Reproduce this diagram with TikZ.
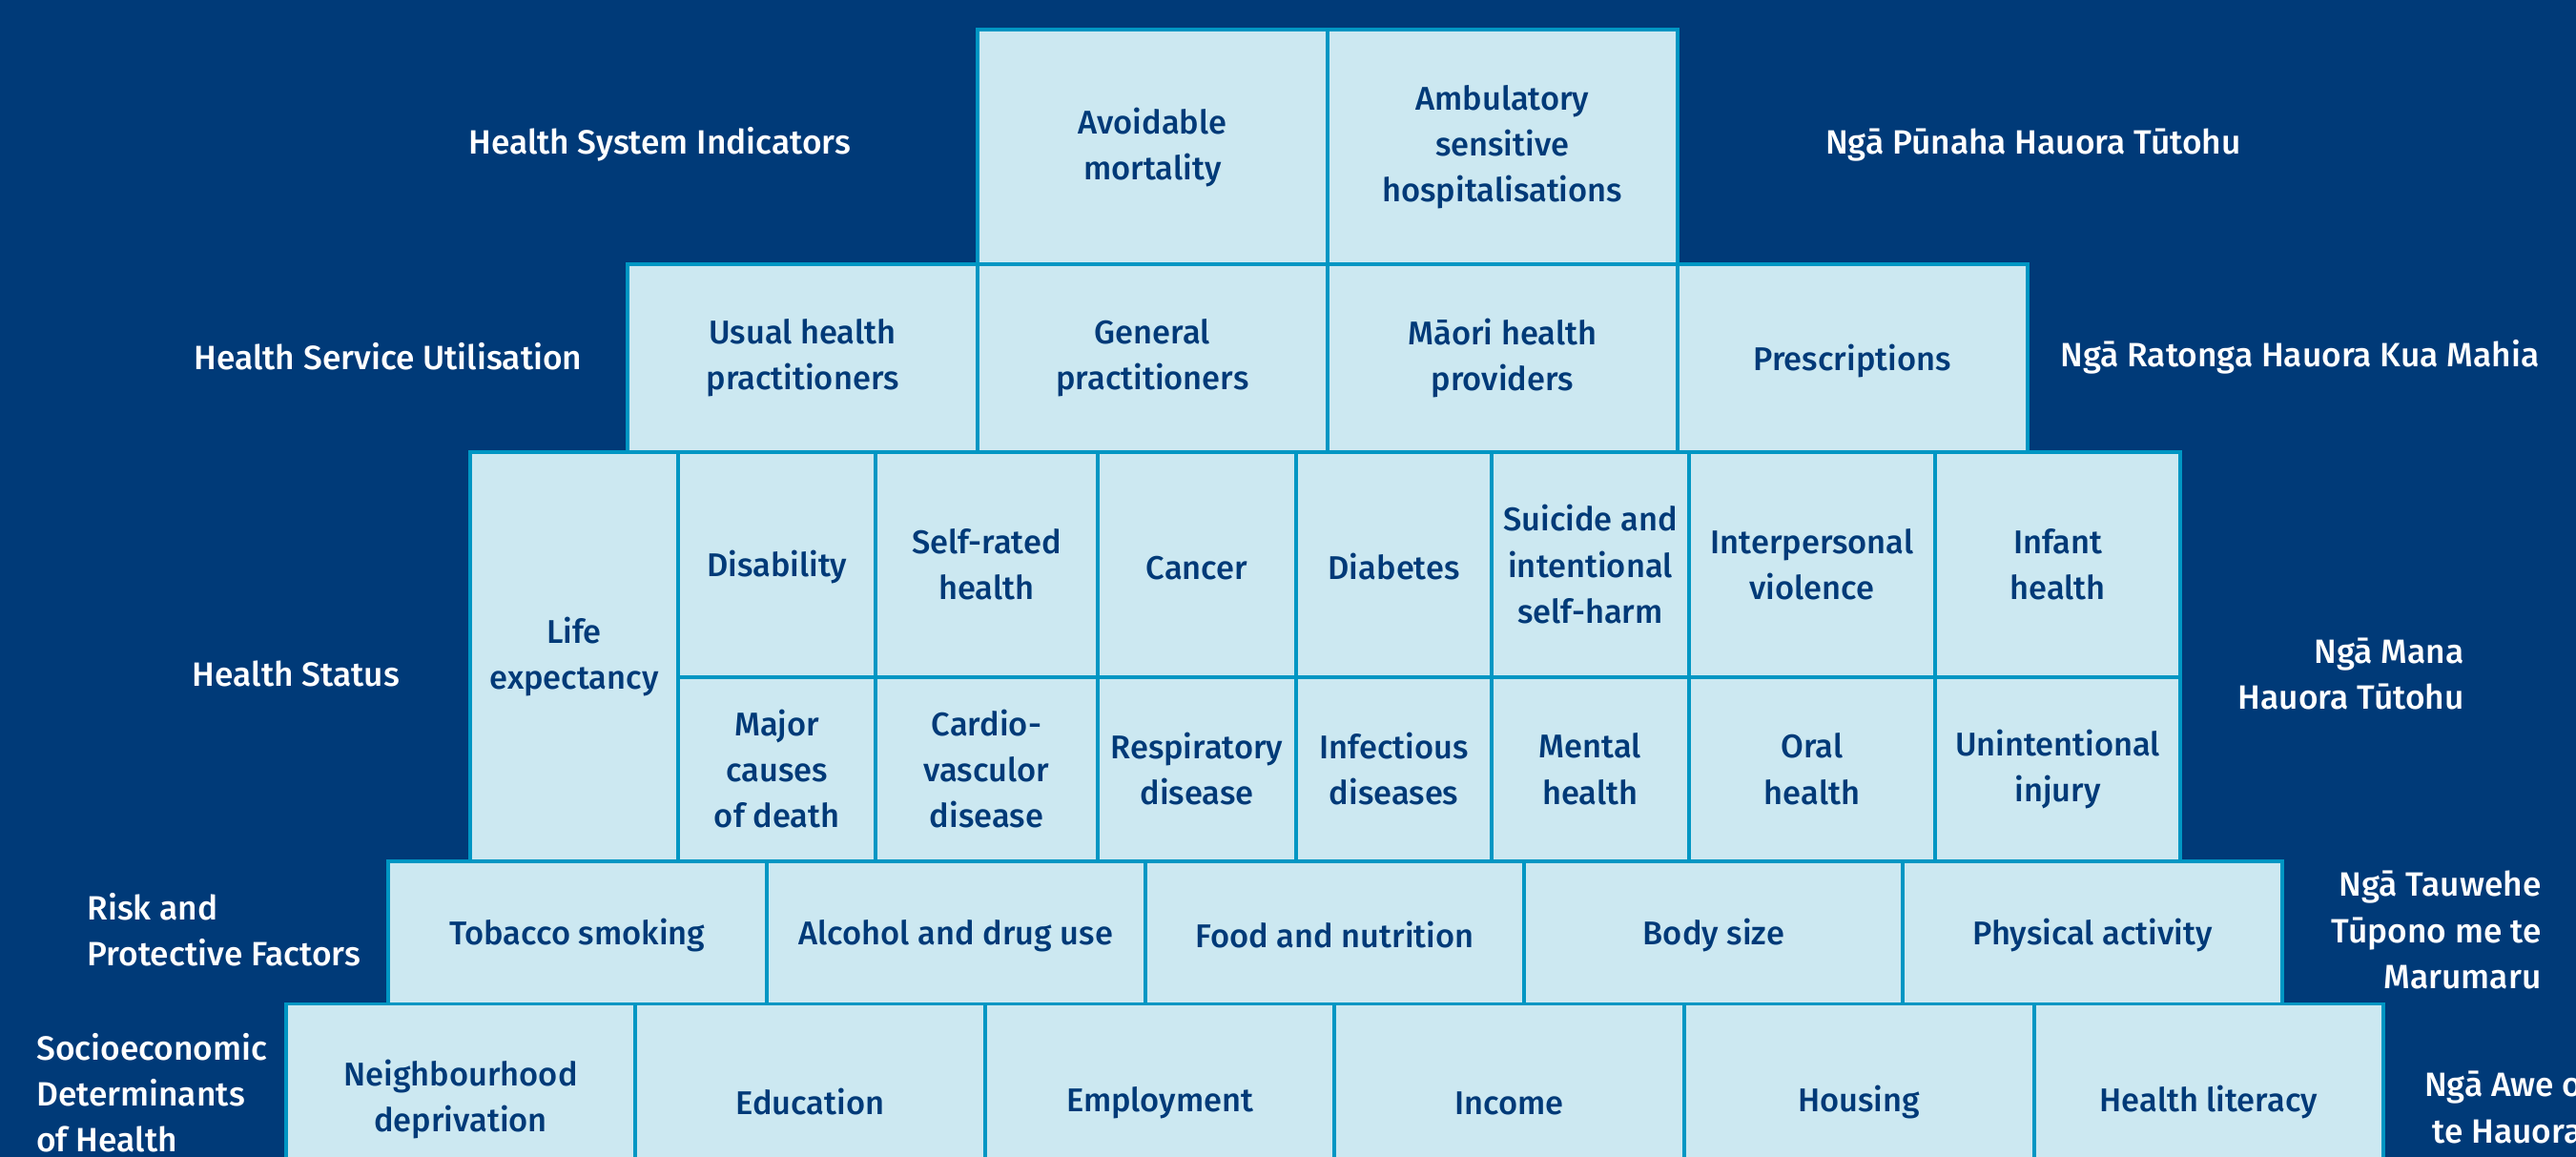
\documentclass[tikz,border=0pt]{standalone}
\usepackage{fontspec}
\setmainfont{Fira Sans}[UprightFont={* Medium}]
\newfontfamily\cellfont{Fira Sans}[UprightFont={* Medium}]
\usetikzlibrary{positioning}
\definecolor{navy}{RGB}{0,58,120}
\definecolor{cellfill}{RGB}{204,232,241}
\definecolor{cellline}{RGB}{0,150,195}
\tikzstyle{cell}=[draw=cellline, fill=cellfill, line width=2.3pt, inner sep=0pt, outer sep=0pt, align=center, text=navy, font=\cellfont\fontsize{20}{28}\selectfont, execute at begin node={\rule{0pt}{19pt}}]
\tikzstyle{system cell}=[cell, minimum width=213pt, minimum height=143pt]
\tikzstyle{service cell}=[cell, minimum width=213pt, minimum height=114pt]
\tikzstyle{status cell}=[cell, minimum height=137pt]
\tikzstyle{lower status cell}=[cell, minimum height=112pt]
\tikzstyle{risk cell}=[cell, minimum width=230.6pt, minimum height=87pt]
\tikzstyle{socio cell}=[cell, minimum width=212.8pt, minimum height=116pt]
\tikzstyle{level}=[text=white, inner sep=0pt, font=\fontsize{20.5}{28}\selectfont]

\begin{document}
\begin{tikzpicture}[x=1pt, y=-1pt]
      \fill[navy] (0,0) rectangle (1568,704);
      \useasboundingbox (0,0) rectangle (1568,704);
      \clip (0,0) rectangle (1568,704);

      % health system indicators
      \node[system cell] (avoidable) at (701.5, 89.5) {Avoidable\\mortality};
      \node[system cell] (ambulatory) at (914.5, 89.5) {Ambulatory\\sensitive\\hospitalisations};

      % health service utilisation
      \node[service cell] (usual) at (488.5, 218) {Usual health\\practitioners};
      \node[service cell] (general) at (701.5, 218) {General\\practitioners};
      \node[service cell] (maori) at (914.5, 218) {Māori health\\providers};
      \node[service cell] (prescriptions) at (1127.5, 218) {Prescriptions};

      % health status
      \node[cell, minimum width=127pt, minimum height=249pt] (life) at (349.5, 399.5) {Life\\expectancy};
      \node[status cell, minimum width=120pt] (disability) at (473, 343.5) {Disability};
      \node[status cell, minimum width=135pt] (self_rated) at (600.5, 343.5) {Self-rated\\health};
      \node[status cell, minimum width=121pt] (cancer) at (728.5, 343.5) {Cancer};
      \node[status cell, minimum width=119pt] (diabetes) at (848.5, 343.5) {Diabetes};
      \node[status cell, minimum width=120pt] (suicide) at (968, 343.5) {Suicide and\\intentional\\self-harm};
      \node[status cell, minimum width=150pt] (violence) at (1103, 343.5) {Interpersonal\\violence};
      \node[status cell, minimum width=149pt] (infant) at (1252.5, 343.5) {Infant\\health};
      \node[lower status cell, minimum width=120pt] (major) at (473, 468) {Major\\causes\\of death};
      \node[lower status cell, minimum width=135pt] (cardio) at (600.5, 468) {Cardio-\\vasculor\\disease};
      \node[lower status cell, minimum width=121pt] (respiratory) at (728.5, 468) {Respiratory\\disease};
      \node[lower status cell, minimum width=119pt] (infectious) at (848.5, 468) {Infectious\\diseases};
      \node[lower status cell, minimum width=120pt] (mental) at (968, 468) {Mental\\health};
      \node[lower status cell, minimum width=150pt] (oral) at (1103, 468) {Oral\\health};
      \node[lower status cell, minimum width=149pt] (injury) at (1252.5, 468) {Unintentional\\injury};

      % risk and protective factors
      \node[risk cell] (tobacco) at (351.3, 567.5) {Tobacco smoking};
      \node[risk cell] (alcohol) at (581.9, 567.5) {Alcohol and drug use};
      \node[risk cell] (food) at (812.5, 567.5) {Food and nutrition};
      \node[risk cell] (body) at (1043.1, 567.5) {Body size};
      \node[risk cell] (physical) at (1273.7, 567.5) {Physical activity};

      % socioeconomic determinants
      \node[socio cell] (neighbourhood) at (280.4, 669) {Neighbourhood\\deprivation};
      \node[socio cell] (education) at (493.2, 669) {Education};
      \node[socio cell] (employment) at (706, 669) {Employment};
      \node[socio cell] (income) at (918.8, 669) {Income};
      \node[socio cell] (housing) at (1131.6, 669) {Housing};
      \node[socio cell] (literacy) at (1344.4, 669) {Health literacy};

      % level names, English
      \node[level, anchor=west] (system_en) at (285, 88) {Health System Indicators};
      \node[level, anchor=west] (service_en) at (118, 217) {Health Service Utilisation};
      \node[level, anchor=west] (status_en) at (117, 410) {Health Status};
      \node[level, anchor=west, align=left] (risk_en) at (53, 566) {Risk and\\Protective Factors};
      \node[level, anchor=west, align=left] (socio_en) at (22, 665) {Socioeconomic\\Determinants\\of Health};

      % level names, te reo
      \node[level, anchor=west] (system_mi) at (1111, 88) {Ngā Pūnaha Hauora Tūtohu};
      \node[level, anchor=west] (service_mi) at (1254, 217) {Ngā Ratonga Hauora Kua Mahia};
      \node[level, anchor=east, align=right] (status_mi) at (1500, 410) {Ngā Mana\\Hauora Tūtohu};
      \node[level, anchor=east, align=right] (risk_mi) at (1547, 566) {Ngā Tauwehe\\Tūpono me te\\Marumaru};
      \node[level, anchor=east, align=right] (socio_mi) at (1572, 674) {Ngā Awe o\\te Hauora};
    \end{tikzpicture}
\end{document}
